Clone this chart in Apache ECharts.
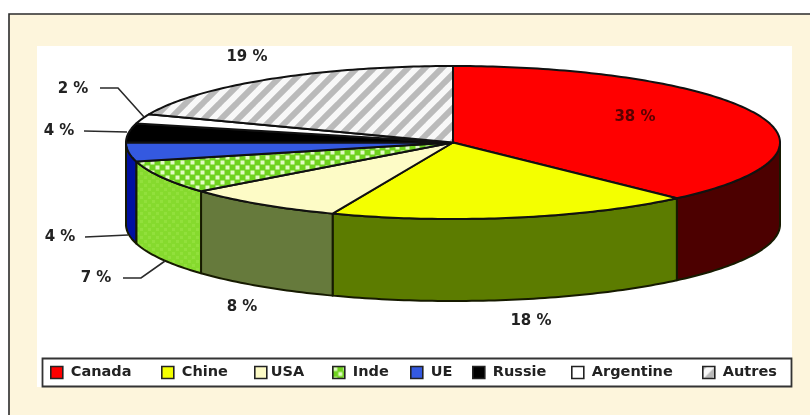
<!DOCTYPE html>
<html><head><meta charset="utf-8">
<style>html,body{margin:0;padding:0;background:#fff}#c{width:810px;height:415px;filter:blur(0.45px)}</style>
<script src="https://cdn.jsdelivr.net/npm/echarts@6/dist/echarts.min.js"></script>
</head><body><div id="c"></div>
<script>
// --- data ---
const categories = ['Canada','Chine','USA','Inde','UE','Russie','Argentine','Autres'];
const shares = [38,18,8,7,4,4,2,19];
const topColors = ['#ff0000','#f4ff00','#fdfbc6','dots','#3459e0','#000000','#ffffff','stripes'];
const sideColors = ['#4c0000','#5c7c00','#667a3c','#86da2e','#0010a0','#000000','#888888','#777777'];
// --- layout ---
const CX=453, CY=142.5, RX=327, RY=76.5, DEPTH=82;
const labelPos = [[635,117],[531,321],[242,307],[96,278],[60,237],[59,131],[73,89],[247,57]];
const labelColor = ['#5a0000','#222','#222','#222','#222','#222','#222','#222'];
const leaders = [
  [[100,88],[118,88],[144,117]],
  [[84,131],[127,132]],
  [[85,237],[128,235]],
  [[123,278],[141,278],[165,261]]
];
const legendSymbolX = [50,161,254,332,410,472,571,702];
const legendTextGap = [3,3,-1,3,3,3,3,3];

function tile(w,h,draw){const c=document.createElement('canvas');c.width=w;c.height=h;draw(c.getContext('2d'),w,h);return {image:c,repeat:'repeat'};}
const stripes = tile(17,17,(g,w,h)=>{g.fillStyle='#f8f8f8';g.fillRect(0,0,w,h);g.strokeStyle='#bababa';g.lineWidth=6;
  [-17,0,17].forEach(o=>{g.beginPath();g.moveTo(o-2,h+2);g.lineTo(o+w+2,-2);g.stroke();});});
const dots = tile(10,10,(g,w,h)=>{g.fillStyle='#6fd21e';g.fillRect(0,0,w,h);g.fillStyle='#e2fac4';
  [[0.5,0.5],[5.5,5.5]].forEach(p=>{g.fillRect(p[0],p[1],4,4);});});
const sideDots = tile(8,8,(g,w,h)=>{g.fillStyle='#86da2e';g.fillRect(0,0,w,h);g.fillStyle='#92e03c';
  [[0,0],[4,4]].forEach(p=>{g.fillRect(p[0],p[1],3,3);});});
const fillOf = c => c==='stripes'?stripes:c==='dots'?dots:c;
const sideFill = i => categories[i]==='Inde'?sideDots:sideColors[i];

function pt(deg,dy){const a=deg*Math.PI/180;return [CX+RX*Math.sin(a),CY-RY*Math.cos(a)+(dy||0)];}
function arc(a,b,dy){const n=Math.max(2,Math.ceil(Math.abs(b-a)));const o=[];for(let k=0;k<=n;k++)o.push(pt(a+(b-a)*k/n,dy));return o;}

let cum=0;
const starts=shares.map(v=>{const s=cum;cum+=v;return s;});
const total=cum;

const series = categories.map((name,i)=>({
  name, type:'custom', coordinateSystem:'none', silent:true, animation:false,
  itemStyle:{color:fillOf(topColors[i]),borderColor:'#111',borderWidth:2},
  data:[[starts[i],shares[i]]],
  renderItem(params,api){
    const a0=api.value(0)/total*360, a1=(api.value(0)+api.value(1))/total*360;
    const children=[];
    const s0=Math.max(a0,90), s1=Math.min(a1,270);
    if(s1>s0){
      const top=arc(s0,s1,0), bot=arc(s1,s0,DEPTH);
      children.push({type:'polygon',z2:1,shape:{points:top.concat(bot)},
        style:{fill:sideFill(i),stroke:'#161a00',lineWidth:2,lineJoin:'round'}});
    }
    children.push({type:'polygon',z2:3,shape:{points:[[CX,CY]].concat(arc(a0,a1,0))},
      style:{fill:fillOf(topColors[i]),stroke:'#111',lineWidth:2,lineJoin:'round'}});
    return {type:'group',children};
  }
}));

const txt={fontFamily:'DejaVu Sans',fontWeight:'bold',fontSize:15};
const graphic=[
  {type:'rect',z:-10,shape:{x:9,y:14,width:810,height:420},style:{fill:'#fdf5dc',stroke:'#2b2b2b',lineWidth:1.6}},
  {type:'rect',z:-9,shape:{x:37,y:46,width:755,height:341},style:{fill:'#ffffff'}},
  {type:'rect',z:-8,shape:{x:42.5,y:358.5,width:749,height:28},style:{fill:'#ffffff',stroke:'#333',lineWidth:1.8}}
];
leaders.forEach(p=>graphic.push({type:'polyline',z:5,shape:{points:p},style:{fill:'none',stroke:'#2a2a2a',lineWidth:1.6}}));
shares.forEach((v,i)=>graphic.push({type:'text',z:6,x:labelPos[i][0],y:labelPos[i][1],
  style:Object.assign({},txt,{text:v+' %',align:'center',verticalAlign:'middle',fill:labelColor[i]})}));

const legend=categories.map((name,i)=>({
  show:true,left:legendSymbolX[i],top:365,orient:'horizontal',padding:0,itemWidth:12,itemHeight:12,icon:'rect',
  selectedMode:false,
  data:[{name,itemStyle:{color:fillOf(topColors[i]),borderColor:'#222',borderWidth:1.6}}],
  textStyle:{fontFamily:'DejaVu Sans',fontWeight:'bold',fontSize:14.5,color:'#222',padding:[0,0,0,legendTextGap[i]]}
}));

const chart=echarts.init(document.getElementById('c'),null,{renderer:'canvas'});
chart.setOption({animation:false,backgroundColor:'#fff',tooltip:{show:false},legend,graphic,series});
</script></body></html>
